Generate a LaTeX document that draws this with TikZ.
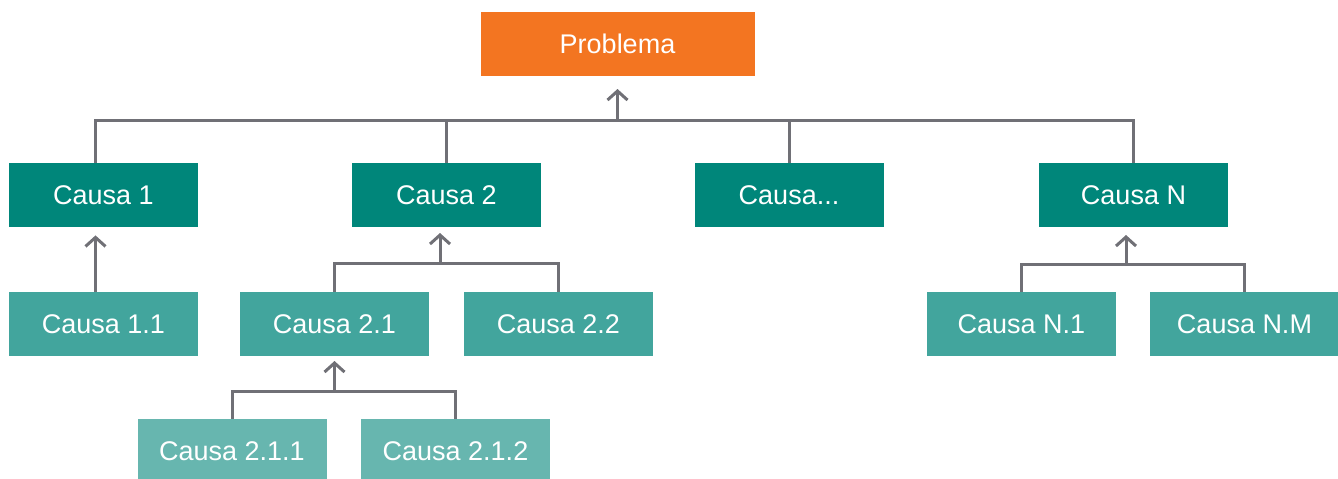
\documentclass[tikz,border=0pt]{standalone}
\usepackage{fontspec}
\setmainfont{Liberation Sans}
\usetikzlibrary{calc,arrows.meta,positioning}
\definecolor{orangebox}{RGB}{243,117,33}
\definecolor{tealdark}{RGB}{0,134,122}
\definecolor{tealmid}{RGB}{66,165,157}
\definecolor{teallight}{RGB}{103,182,175}
\definecolor{linegray}{RGB}{112,112,118}
\tikzset{
  box/.style={rectangle,inner sep=0pt,minimum width=94.5pt,minimum height=32pt,
    text=white,font=\fontsize{13.5}{16}\selectfont},
  problem/.style={box,fill=orangebox,minimum width=137pt},
  cause/.style={box,fill=tealdark},
  subcause/.style={box,fill=tealmid},
  subsubcause/.style={box,fill=teallight},
  link/.style={draw=linegray,line width=1.5pt},
  up/.style={link,-{Straight Barb[length=4.5pt,width=10pt,line width=1.5pt]}}
}

\begin{document}
\begin{tikzpicture}[x=0.5pt,y=-0.5pt]
  \useasboundingbox (0,0) rectangle (1338,478);

  % nodes
  \node[problem] (prob) at (617.5,44) {Problema};

  \node[cause] (c1) at (103.5,195) {Causa 1};
  \node[cause] (c2) at (446.5,195) {Causa 2};
  \node[cause] (c3) at (789,195) {Causa...};
  \node[cause] (cN) at (1133.5,195) {Causa N};

  \node[subcause] (c11) at (103.5,324) {Causa 1.1};
  \node[subcause] (c21) at (334.5,324) {Causa 2.1};
  \node[subcause] (c22) at (558.5,324) {Causa 2.2};
  \node[subcause] (cN1) at (1021.5,324) {Causa N.1};
  \node[subcause] (cNM) at (1244.5,324) {Causa N.M};

  \node[subsubcause] (c211) at (232,451) {Causa 2.1.1};
  \node[subsubcause] (c212) at (455.5,451) {Causa 2.1.2};

  % bars and arrow tips
  \coordinate (bar1) at (617.5,120);
  \coordinate (tip1) at (617.5,89);
  \coordinate (bar2) at (440,263);
  \coordinate (tip2) at (440,233);
  \coordinate (bar3) at (334.5,391);
  \coordinate (tip3) at (334.5,361);
  \coordinate (barN) at (1126,264);
  \coordinate (tipN) at (1126,235);

  % connectors
  \draw[link] ($(c1.north)+(-8.5,0)$) |- (bar1) -| (cN.north);
  \draw[link] (c2.north) -- (c2.north |- bar1);
  \draw[link] (c3.north) -- (c3.north |- bar1);
  \draw[up] (bar1) -- (tip1);

  \draw[up] ($(c11.north)+(-8,0)$) -- ($(c1.south)+(-8,8)$);

  \draw[link] (c21.north) |- (bar2) -| (c22.north);
  \draw[up] (bar2) -- (tip2);

  \draw[link] (c211.north) |- (bar3) -| (c212.north);
  \draw[up] (bar3) -- (tip3);

  \draw[link] (cN1.north) |- (barN) -| (cNM.north);
  \draw[up] (barN) -- (tipN);
\end{tikzpicture}
\end{document}
